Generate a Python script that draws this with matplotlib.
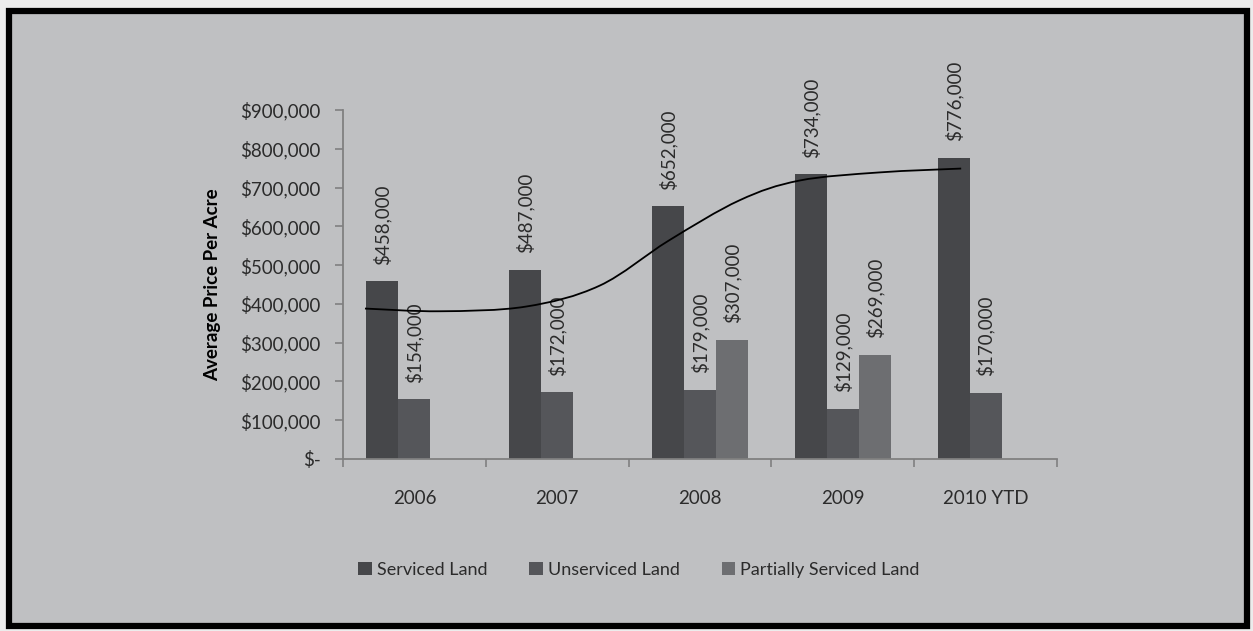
import numpy as np
import matplotlib.pyplot as plt
from matplotlib.patches import Rectangle, Patch, PathPatch
from matplotlib.path import Path
from matplotlib.ticker import FuncFormatter, FixedLocator

plt.rcParams['font.family'] = ['Lato', 'DejaVu Sans']

# Data
years = ['2006', '2007', '2008', '2009', '2010 YTD']
serviced = [458000, 487000, 652000, 734000, 776000]
unserviced = [154000, 172000, 179000, 129000, 170000]
partial = [None, None, 307000, 269000, None]

# Smoothed trend curve (category position, value)
trend_x = [-0.346, 0.178, 0.780, 1.297, 1.780, 2.276, 2.696, 3.255, 3.829]
trend_y = [388000, 381000, 393000, 447000, 563000, 667000, 718000, 739000, 749000]

bg = '#bfc0c2'
col_serv = '#46474a'
col_unserv = '#55565a'
col_part = '#6d6e71'
text_col = '#2b2b2b'
axis_col = '#808080'

fig = plt.figure(figsize=(12.53, 6.31), dpi=100)
fig.patch.set_facecolor('#ececec')

# Gray panel with thick black frame
fig.patches.append(Rectangle((8.5 / 1253, 1 - 626 / 631), 1238 / 1253, 615 / 631,
                             transform=fig.transFigure, facecolor=bg,
                             edgecolor='black', linewidth=4.5, zorder=-5))

ax = fig.add_axes([343 / 1253, 1 - 459 / 631, 714 / 1253, 349 / 631])
ax.set_facecolor('none')
ax.set_zorder(2)

x = np.arange(len(years))
w = 32 / 143

def fmt_money(v):
    return '$-' if v == 0 else '${:,.0f}'.format(v)

series = [(serviced, col_serv, 'Serviced Land', -w),
          (unserviced, col_unserv, 'Unserviced Land', 0),
          (partial, col_part, 'Partially Serviced Land', w)]

for vals, col, name, off in series:
    for i, v in enumerate(vals):
        if v is None:
            continue
        ax.bar(x[i] + off, v, width=w, color=col, zorder=2)
        ax.annotate(fmt_money(v), (x[i] + off, v), xytext=(0, 12),
                    textcoords='offset points', rotation=90,
                    ha='center', va='bottom', fontsize=13.5, color=text_col)

# Smooth trend line (Catmull-Rom rendered as cubic Bezier segments)
pts = np.column_stack([trend_x, trend_y])
verts = [tuple(pts[0])]
codes = [Path.MOVETO]
for i in range(len(pts) - 1):
    p0 = pts[i - 1] if i > 0 else pts[i]
    p1, p2 = pts[i], pts[i + 1]
    p3 = pts[i + 2] if i + 2 < len(pts) else pts[i + 1]
    c1 = p1 + (p2 - p0) / 6
    c2 = p2 - (p3 - p1) / 6
    verts += [tuple(c1), tuple(c2), tuple(p2)]
    codes += [Path.CURVE4] * 3
ax.add_patch(PathPatch(Path(verts, codes), facecolor='none',
                       edgecolor='black', linewidth=1.3, zorder=3))

ax.set_xlim(-0.5, len(years) - 0.5)
ax.set_ylim(0, 900000)
ax.set_yticks(np.arange(0, 900001, 100000))
ax.yaxis.set_major_formatter(FuncFormatter(lambda v, p: fmt_money(v)))

ax.set_xticks(x)
ax.set_xticklabels(years)
ax.xaxis.set_minor_locator(FixedLocator(np.arange(-0.5, len(years), 1.0)))
ax.tick_params(axis='x', which='major', length=0, pad=22, labelsize=13.5,
               labelcolor=text_col)
ax.tick_params(axis='x', which='minor', length=6, width=1.2, color=axis_col,
               direction='out')
ax.tick_params(axis='y', length=6, width=1.2, color=axis_col, pad=10,
               labelsize=13.5, labelcolor=text_col)

for s in ['top', 'right']:
    ax.spines[s].set_visible(False)
for s in ['left', 'bottom']:
    ax.spines[s].set_color(axis_col)
    ax.spines[s].set_linewidth(1.3)

ax.set_ylabel('Average Price Per Acre', fontsize=13.5, fontweight='bold',
              color='black', labelpad=14)

handles = [Patch(facecolor=c, label=n) for _, c, n, _ in series]
fig.legend(handles=handles, loc='center', bbox_to_anchor=(639 / 1253, 1 - 570 / 631),
           ncol=3, frameon=False, fontsize=13, handlelength=0.75,
           handleheight=0.75, handletextpad=0.3, columnspacing=2.3,
           labelcolor=text_col)

fig.savefig('out.png', dpi=100, facecolor=fig.get_facecolor())
